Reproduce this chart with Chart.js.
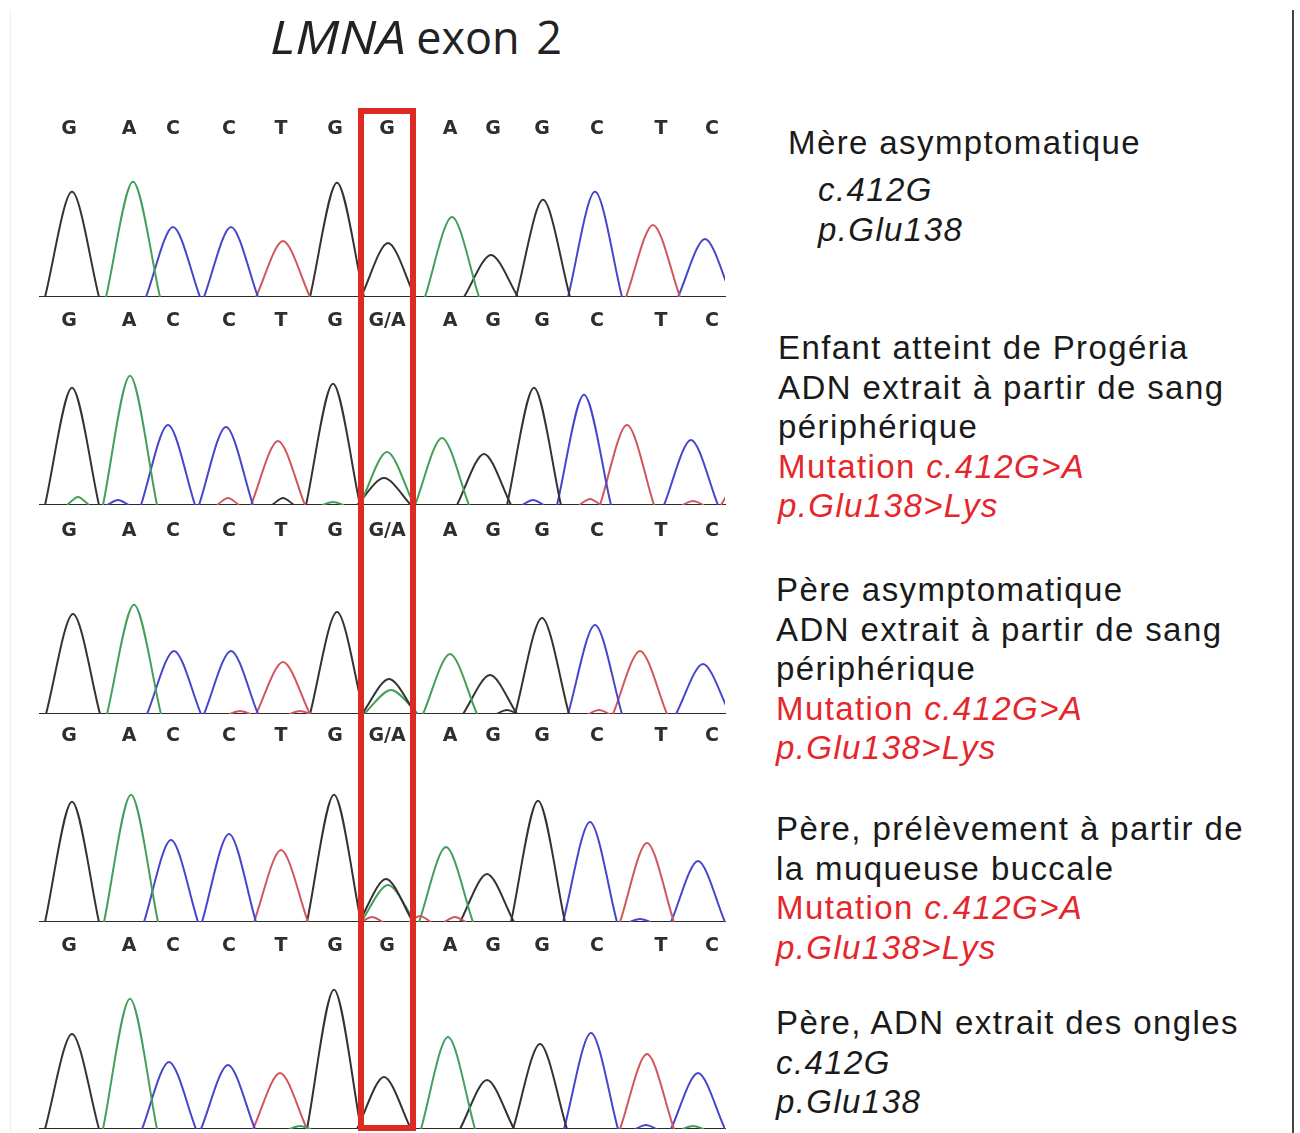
<!DOCTYPE html>
<html>
<head>
<meta charset="utf-8">
<script src="https://cdn.jsdelivr.net/npm/chart.js@4.4.1/dist/chart.umd.min.js"></script>
<style>
  body { margin: 0; background: #fff; }
  #page { position: relative; width: 1300px; height: 1133px; overflow: hidden; background: #fff; }
  .panel { position: absolute; left: 0; width: 740px; }
  .title { position: absolute; left: 270px; top: 15px; font-family: "Open Sans", sans-serif; font-size: 45px; line-height: 44px; color: #222; white-space: nowrap; }
  .title i { display: inline-block; transform: scaleX(1.17); transform-origin: left center; margin-right: 30px; }
  .title .two { margin-left: 5px; }
  .txt { position: absolute; font-family: "Liberation Sans", Arial, sans-serif; font-size: 33px; letter-spacing: 1.4px; line-height: 39.5px; color: #1a1a1a; white-space: nowrap; }
  .red { color: #e5262b; }
  i { font-style: italic; }
  #box { position: absolute; border: 6px solid #dd2a22; box-sizing: border-box; }
  #rline { position: absolute; left: 1292px; top: 10px; width: 2px; height: 1123px; background: #444; }
  #lline { position: absolute; left: 10px; top: 10px; width: 1px; height: 1123px; background: #eee; }
</style>
</head>
<body>
<div id="page">
  <div id="lline"></div>
  <div id="rline"></div>
  <div class="title"><i>LMNA</i>exon<span class="two"> 2</span></div>

  <div class="txt" style="left:788px; top:123px;">Mère asymptomatique</div>
  <div class="txt" style="left:818px; top:170px;"><i>c.412G</i><br><i>p.Glu138</i></div>

  <div class="txt" style="left:778px; top:328px;">Enfant atteint de Progéria<br>ADN extrait à partir de sang<br>périphérique<br><span class="red">Mutation <i>c.412G&gt;A</i></span><br><span class="red"><i>p.Glu138&gt;Lys</i></span></div>

  <div class="txt" style="left:776px; top:570px;">Père asymptomatique<br>ADN extrait à partir de sang<br>périphérique<br><span class="red">Mutation <i>c.412G&gt;A</i></span><br><span class="red"><i>p.Glu138&gt;Lys</i></span></div>

  <div class="txt" style="left:776px; top:809px;">Père, prélèvement à partir de<br>la muqueuse buccale<br><span class="red">Mutation <i>c.412G&gt;A</i></span><br><span class="red"><i>p.Glu138&gt;Lys</i></span></div>

  <div class="txt" style="left:776px; top:1003px;">Père, ADN extrait des ongles<br><i>c.412G</i><br><i>p.Glu138</i></div>

  <div class="panel" id="w1"><canvas id="c1"></canvas></div>
  <div class="panel" id="w2"><canvas id="c2"></canvas></div>
  <div class="panel" id="w3"><canvas id="c3"></canvas></div>
  <div class="panel" id="w4"><canvas id="c4"></canvas></div>
  <div class="panel" id="w5"><canvas id="c5"></canvas></div>
  <div id="box"></div>
</div>

<script>
// base calls printed above each trace
const letterPos = [69, 129, 173, 229, 281, 335, 387, 450, 493, 542, 597, 661, 712];
const callsNormal = ['G', 'A', 'C', 'C', 'T', 'G', 'G', 'A', 'G', 'G', 'C', 'T', 'C'];
const callsMutant = ['G', 'A', 'C', 'C', 'T', 'G', 'G/A', 'A', 'G', 'G', 'C', 'T', 'C'];

// position 412 (boxed column), in trace units
const boxFrom = 358;
const boxTo = 416;

// panel 1 - mother
const p1Base = ['G', 'A', 'C', 'C', 'T', 'G', 'G', 'A', 'G', 'G', 'C', 'T', 'C'];
const p1Pos = [72, 133, 173, 231, 283, 337, 388, 452, 491, 543, 595, 653, 705];
const p1Height = [105, 115, 70, 70, 56, 114, 54, 80, 42, 97, 105, 72, 58];
const p1NoiseBase = [];
const p1NoisePos = [];
const p1NoiseHeight = [];

// panel 2 - child, blood
const p2Base = ['G', 'A', 'C', 'C', 'T', 'G', 'A', 'G', 'A', 'G', 'G', 'C', 'T', 'C', 'T'];
const p2Pos = [72, 130, 168, 226, 278, 333, 387, 384, 442, 484, 534, 584, 627, 691, 748];
const p2Height = [117, 129, 80, 78, 64, 121, 53, 27, 67, 51, 117, 110, 80, 65, 40];
const p2NoiseBase = ['A', 'C', 'T', 'G', 'A', 'C', 'T', 'T'];
const p2NoisePos = [78, 118, 228, 283, 333, 533, 590, 693];
const p2NoiseHeight = [8, 5, 7, 7, 3, 5, 6, 4];

// panel 3 - father, blood
const p3Base = ['G', 'A', 'C', 'C', 'T', 'G', 'G', 'A', 'A', 'G', 'G', 'C', 'T', 'C'];
const p3Pos = [73, 134, 174, 231, 283, 337, 389, 391, 450, 490, 542, 595, 640, 703];
const p3Height = [100, 109, 63, 63, 52, 102, 35, 24, 60, 39, 96, 89, 63, 50];
const p3NoiseBase = ['T', 'T', 'G', 'T'];
const p3NoisePos = [240, 300, 507, 599];
const p3NoiseHeight = [3, 3, 4, 4];

// panel 4 - father, buccal swab
const p4Base = ['G', 'A', 'C', 'C', 'T', 'G', 'G', 'A', 'A', 'G', 'G', 'C', 'T', 'C'];
const p4Pos = [72, 131, 171, 229, 281, 334, 386, 388, 446, 487, 538, 590, 647, 698];
const p4Height = [120, 127, 82, 88, 72, 127, 43, 37, 75, 48, 121, 100, 79, 61];
const p4NoiseBase = ['T', 'T', 'T', 'C'];
const p4NoisePos = [372, 420, 455, 640];
const p4NoiseHeight = [5, 6, 5, 3];

// panel 5 - father, nails
const p5Base = ['G', 'A', 'C', 'C', 'T', 'G', 'G', 'A', 'G', 'G', 'C', 'T', 'C'];
const p5Pos = [72, 130, 169, 228, 280, 334, 384, 448, 487, 540, 591, 647, 698];
const p5Height = [95, 130, 67, 64, 56, 139, 52, 92, 49, 85, 96, 75, 56];
const p5NoiseBase = ['C', 'A', 'A'];
const p5NoisePos = [646, 693, 300];
const p5NoiseHeight = [4, 3, 3];

const baseColors = { G: '#333333', A: '#449f5a', C: '#4646cc', T: '#d2575c' };
const halfWidth = 27;
const noiseHalfWidth = 11;

// letter row y, baseline y
const panelLayout = [
  [128, 295], [320, 503], [530, 712], [735, 920], [945, 1127]
];

function peakSets(bases, pos, heights, hw, width) {
  return bases.map((b, i) => ({
    data: [
      { x: pos[i] - hw, y: 0 },
      { x: pos[i], y: heights[i] },
      { x: pos[i] + hw, y: 0 }
    ],
    borderColor: baseColors[b],
    borderWidth: width,
    pointRadius: 0,
    fill: false,
    tension: 0.3
  }));
}

function makePanel(id, calls, bases, pos, heights, nBase, nPos, nHeight, layout) {
  const wrap = document.getElementById('w' + id);
  const top = layout[0] - 12;
  const h = layout[1] - top + 2;
  wrap.style.top = top + 'px';
  wrap.style.height = h + 'px';
  const areaH = layout[1] - layout[0] - 13;

  const datasets = peakSets(nBase, nPos, nHeight, noiseHalfWidth, 1.8)
    .concat(peakSets(bases, pos, heights, halfWidth, 2));

  return new Chart(document.getElementById('c' + id), {
    type: 'line',
    data: { datasets: datasets },
    options: {
      responsive: true,
      maintainAspectRatio: false,
      animation: false,
      layout: { padding: { left: 40, right: 15, top: 0, bottom: 0 } },
      plugins: { legend: { display: false }, tooltip: { enabled: false } },
      scales: {
        x: {
          type: 'linear',
          position: 'top',
          min: 40,
          max: 725,
          afterBuildTicks: axis => { axis.ticks = letterPos.map(v => ({ value: v })); },
          ticks: {
            autoSkip: false,
            maxRotation: 0,
            padding: 2,
            color: '#2e2e2e',
            font: { family: 'DejaVu Sans', weight: 'bold', size: 19 },
            callback: (v, i) => calls[i]
          },
          grid: { display: false, drawTicks: false },
          border: { display: false }
        },
        x2: {
          type: 'linear',
          position: 'bottom',
          min: 40,
          max: 725,
          ticks: { display: false },
          grid: { display: false, drawTicks: false },
          border: { display: true, color: '#2a2a2a', width: 3 }
        },
        y: { display: false, min: 0, max: areaH }
      }
    }
  });
}

const charts = [
  makePanel(1, callsNormal, p1Base, p1Pos, p1Height, p1NoiseBase, p1NoisePos, p1NoiseHeight, panelLayout[0]),
  makePanel(2, callsMutant, p2Base, p2Pos, p2Height, p2NoiseBase, p2NoisePos, p2NoiseHeight, panelLayout[1]),
  makePanel(3, callsMutant, p3Base, p3Pos, p3Height, p3NoiseBase, p3NoisePos, p3NoiseHeight, panelLayout[2]),
  makePanel(4, callsMutant, p4Base, p4Pos, p4Height, p4NoiseBase, p4NoisePos, p4NoiseHeight, panelLayout[3]),
  makePanel(5, callsNormal, p5Base, p5Pos, p5Height, p5NoiseBase, p5NoisePos, p5NoiseHeight, panelLayout[4])
];

// red box around position 412, placed with the x scale of the first trace
const xs = charts[0].scales.x;
const box = document.getElementById('box');
box.style.left = xs.getPixelForValue(boxFrom) + 'px';
box.style.width = (xs.getPixelForValue(boxTo) - xs.getPixelForValue(boxFrom)) + 'px';
box.style.top = '108px';
box.style.height = '1023px';
</script>
</body>
</html>
